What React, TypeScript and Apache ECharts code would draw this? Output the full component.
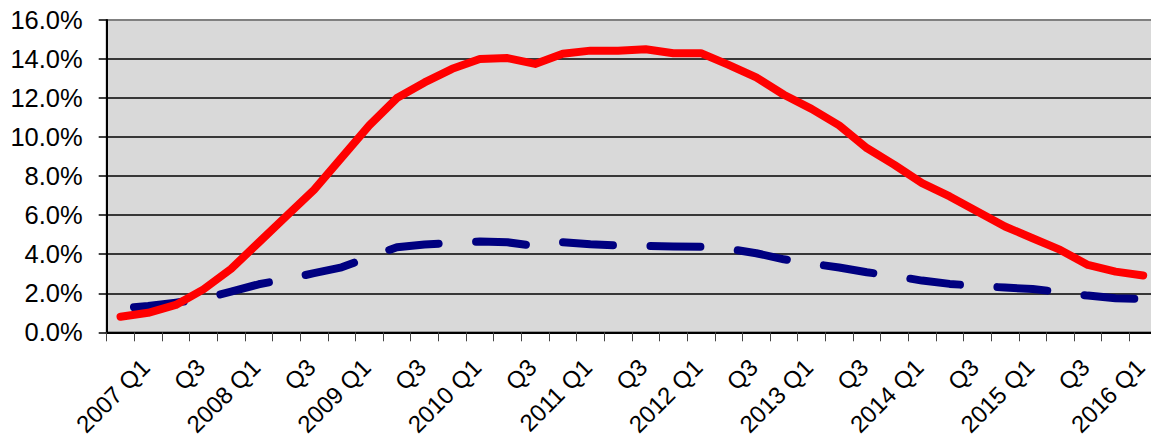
import React, { useEffect, useRef } from "react";
import * as echarts from "echarts";

const categories = [
  "2006 Q4",
  "2007 Q1", "Q2", "Q3", "Q4",
  "2008 Q1", "Q2", "Q3", "Q4",
  "2009 Q1", "Q2", "Q3", "Q4",
  "2010 Q1", "Q2", "Q3", "Q4",
  "2011 Q1", "Q2", "Q3", "Q4",
  "2012 Q1", "Q2", "Q3", "Q4",
  "2013 Q1", "Q2", "Q3", "Q4",
  "2014 Q1", "Q2", "Q3", "Q4",
  "2015 Q1", "Q2", "Q3", "Q4",
  "2016 Q1",
];

const redSeries = [
  0.8, 1.0, 1.4, 2.2, 3.25, 4.6, 5.95, 7.3, 8.95, 10.6,
  12.0, 12.8, 13.5, 14.0, 14.05, 13.75, 14.27, 14.43, 14.43, 14.5,
  14.3, 14.3, 13.7, 13.06, 12.17, 11.45, 10.6, 9.44, 8.58, 7.64,
  6.96, 6.19, 5.42, 4.82, 4.22, 3.45, 3.11, 2.91,
];

const blueSeries = [
  1.22, 1.35, 1.52, 1.72, 2.08, 2.46, 2.72, 3.03, 3.33, 3.85,
  4.36, 4.5, 4.58, 4.65, 4.61, 4.42, 4.62, 4.51, 4.45, 4.43,
  4.4, 4.38, 4.28, 4.05, 3.74, 3.52, 3.32, 3.08, 2.88, 2.65,
  2.48, 2.38, 2.29, 2.22, 2.06, 1.88, 1.74, 1.71,
];

const yMin = 0;
const yMax = 16;
const yStep = 2;

const FONT = "'Liberation Sans', Arial, sans-serif";

export default function App() {
  const ref = useRef<HTMLDivElement>(null);

  useEffect(() => {
    if (!ref.current) return;
    const chart = echarts.init(ref.current, null, { renderer: "svg" });
    const splitColors: string[] = [];
    for (let v = yMin; v <= yMax; v += yStep) {
      splitColors.push(v === yMax ? "#808080" : "#000000");
    }
    chart.setOption({
      animation: false,
      backgroundColor: "#ffffff",
      textStyle: { fontFamily: FONT },
      grid: {
        left: 106.7,
        top: 20,
        right: -6,
        bottom: 104.7,
        containLabel: false,
        outerBoundsMode: "none",
        show: true,
        backgroundColor: "#d9d9d9",
        borderColor: "#808080",
        borderWidth: 2,
      },
      xAxis: {
        type: "category",
        data: categories,
        boundaryGap: true,
        axisLine: { show: true, lineStyle: { color: "#000", width: 2 } },
        axisTick: {
          show: true,
          interval: 0,
          length: 9,
          lineStyle: { color: "#444", width: 1 },
        },
        axisLabel: {
          interval: (i: number) => i % 2 === 1,
          rotate: 45,
          align: "right",
          verticalAlign: "middle",
          margin: 28,
          padding: [0, 4, 0, 0],
          fontSize: 24,
          color: "#000",
          fontFamily: FONT,
        },
        splitLine: { show: false },
      },
      yAxis: {
        type: "value",
        min: yMin,
        max: yMax,
        interval: yStep,
        axisLine: { show: true, lineStyle: { color: "#000", width: 2 } },
        axisTick: { show: true, length: 8, lineStyle: { color: "#000", width: 1.5 } },
        axisLabel: {
          margin: 24,
          fontSize: 25.5,
          color: "#000",
          fontFamily: FONT,
          formatter: (v: number) => v.toFixed(1) + "%",
        },
        splitLine: { show: true, lineStyle: { color: splitColors, width: 1.5 } },
      },
      series: [
        {
          name: "Blue",
          type: "line",
          data: blueSeries,
          symbol: "none",
          lineStyle: {
            color: "#000080",
            width: 8,
            type: [50, 37.5],
            dashOffset: 74,
            cap: "round",
            join: "round",
          },
          z: 3,
        },
        {
          name: "Red",
          type: "line",
          data: redSeries,
          symbol: "none",
          lineStyle: {
            color: "#ff0000",
            width: 8,
            cap: "round",
            join: "round",
          },
          z: 4,
        },
      ],
    });
    return () => chart.dispose();
  }, []);

  return (
    <div
      ref={ref}
      style={{ position: "absolute", left: 0, top: 0, width: 1151, height: 437 }}
    />
  );
}
